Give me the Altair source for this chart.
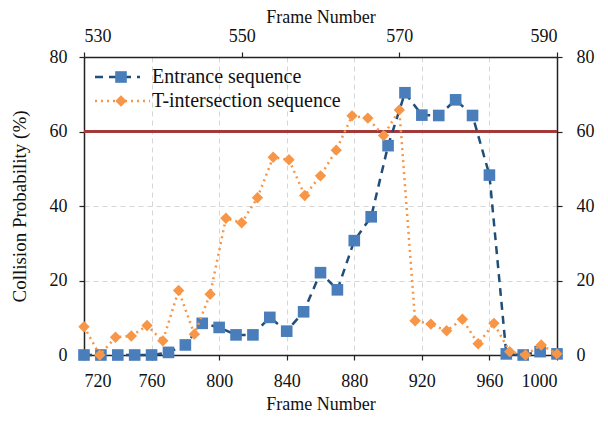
import altair as alt
import pandas as pd

# ---- data ----
entrance_frames = list(range(720, 1001, 10))
entrance_prob = [0, 0, 0, 0, 0, 0.7, 2.7, 8.5, 7.4, 5.4,
                 5.4, 10.1, 6.4, 11.6, 22.1, 17.5, 30.7, 37.1, 56.2, 70.4,
                 64.4, 64.3, 68.5, 64.3, 48.3, 0.3, 0, 0.9, 0.3]

t_frames = list(range(530, 591, 2))
t_prob = [7.6, 0, 4.75, 5.1, 7.9, 3.8, 17.3, 5.6, 16.3, 36.7,
          35.5, 42.2, 53.1, 52.4, 42.8, 48.1, 55.0, 64.2, 63.6, 58.9,
          65.8, 9.2, 8.3, 6.5, 9.6, 3.0, 8.5, 0.9, 0, 2.7, 0.3]

threshold = [60]
bottom_ticks = list(range(720, 1001, 40))
top_ticks = [530, 550, 570, 590]
y_ticks = [0, 20, 40, 60, 80]
series_names = ["Entrance sequence", "T-intersection sequence"]

FONT = "Liberation Serif"
BLUE_FILL = "#4a7ebb"
BLUE_LINE = "#1f4e79"
ORANGE = "#f79646"
RED = "#a33a3a"

df_e = pd.DataFrame({"frame_e": entrance_frames, "prob_e": entrance_prob})
df_t = pd.DataFrame({"frame_t": t_frames, "prob_t": t_prob})
df_th = pd.DataFrame({"prob_e": threshold})


def axis_style(**kw):
    style = dict(
        labelFont=FONT, titleFont=FONT, labelFontSize=18, titleFontSize=18,
        titleFontWeight="normal", labelColor="#111", titleColor="#111",
        domainColor="#222", domainWidth=1.5, tickColor="#222", tickSize=5,
        tickWidth=1.2, gridColor="#d6d6d6", gridDash=[5, 4], gridWidth=1,
        format="d",
    )
    style.update(kw)
    return alt.Axis(**style)


xb = alt.X("frame_e:Q",
           scale=alt.Scale(domain=[720, 1000], nice=False, zero=False),
           axis=axis_style(orient="bottom", values=bottom_ticks, title="Frame Number",
                           grid=True, titlePadding=5, labelPadding=12))
yl = alt.Y("prob_e:Q",
           scale=alt.Scale(domain=[0, 80], nice=False),
           axis=axis_style(orient="left", values=y_ticks, title="Collision Probability (%)",
                           grid=True, titlePadding=20, titleFontSize=19, labelPadding=12))

base_e = alt.Chart(df_e).encode(x=xb, y=yl)
rule = alt.Chart(df_th).mark_rule(color=RED, strokeWidth=3).encode(y=yl)
line_e = base_e.mark_line(color=BLUE_LINE, strokeWidth=2.5, strokeDash=[8, 6])
pts_e = base_e.mark_point(shape="square", filled=True, size=135, color=BLUE_FILL, opacity=1)
layer_e = alt.layer(rule, line_e, pts_e)

xt = alt.X("frame_t:Q",
           scale=alt.Scale(domain=[530, 590], nice=False, zero=False),
           axis=axis_style(orient="top", values=top_ticks, title="Frame Number",
                           grid=False, titlePadding=1, labelPadding=7))
yr = alt.Y("prob_t:Q",
           scale=alt.Scale(domain=[0, 80], nice=False),
           axis=axis_style(orient="right", values=y_ticks, title=None, grid=False,
                           labelPadding=14))

base_t = alt.Chart(df_t).encode(x=xt, y=yr)
line_t = base_t.mark_line(color=ORANGE, strokeWidth=2.5, strokeDash=[2, 4])
pts_t = base_t.mark_point(shape="diamond", filled=True, size=130, color=ORANGE, opacity=1)
layer_t = alt.layer(line_t, pts_t)

# ---- manual legend (inside plot, top-left) ----
one = pd.DataFrame({"k": [0]})
leg_e_line = alt.Chart(one).mark_rule(color=BLUE_LINE, strokeWidth=2.5, strokeDash=[8, 6]).encode(
    x=alt.value(11), x2=alt.value(56), y=alt.value(20))
leg_e_pt = alt.Chart(one).mark_point(shape="square", filled=True, size=135, color=BLUE_FILL, opacity=1).encode(
    x=alt.value(37), y=alt.value(20))
leg_e_txt = alt.Chart(one).mark_text(align="left", baseline="middle", font=FONT, fontSize=20, color="#111").encode(
    x=alt.value(68), y=alt.value(20), text=alt.value(series_names[0]))
leg_t_line = alt.Chart(one).mark_rule(color=ORANGE, strokeWidth=2.5, strokeDash=[2, 4]).encode(
    x=alt.value(11), x2=alt.value(66), y=alt.value(44))
leg_t_pt = alt.Chart(one).mark_point(shape="diamond", filled=True, size=130, color=ORANGE, opacity=1).encode(
    x=alt.value(37), y=alt.value(44))
leg_t_txt = alt.Chart(one).mark_text(align="left", baseline="middle", font=FONT, fontSize=20, color="#111").encode(
    x=alt.value(68), y=alt.value(44), text=alt.value(series_names[1]))

chart = alt.layer(
    layer_e, layer_t,
    leg_e_line, leg_e_pt, leg_e_txt, leg_t_line, leg_t_pt, leg_t_txt,
).resolve_scale(x="independent", y="independent").properties(
    width=473, height=298,
    autosize=alt.AutoSizeParams(type="none"),
    padding={"left": 76, "top": 49, "right": 40, "bottom": 58},
).configure(
    background="white", font=FONT
).configure_axis(
    labelFont=FONT, titleFont=FONT
).configure_view(stroke=None)

chart.save("out.html", embed_options={"renderer": "svg", "actions": False})
